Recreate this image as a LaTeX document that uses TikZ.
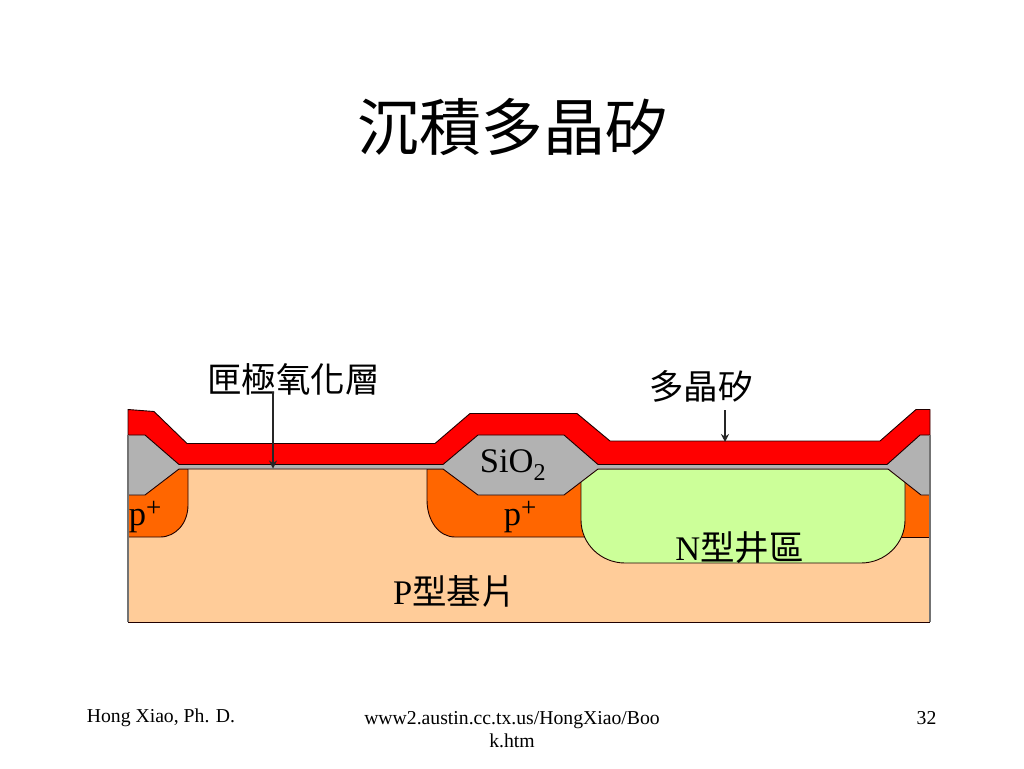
\documentclass[tikz,border=0pt]{standalone}
\usepackage{fontspec}
\setmainfont{Liberation Serif}
\newfontfamily\cjk{Noto Sans CJK TC}
\usetikzlibrary{arrows.meta}
\definecolor{subst}{HTML}{FFCC99}
\definecolor{pplus}{HTML}{FF6600}
\definecolor{nwell}{HTML}{CCFF99}
\definecolor{oxide}{HTML}{B2B2B2}
\definecolor{poly}{HTML}{FF0000}
\definecolor{edge}{HTML}{200000}
\newcommand{\pplustext}{p\raisebox{9pt}{\fontsize{27}{27}\selectfont +}}
\tikzset{
  layer/.style={draw=edge,line width=0.9pt,line join=round},
  oxfill/.style={fill=oxide,draw=none},
  sideline/.style={draw=black!55,line width=1.2pt},
  lbl/.style={inner sep=0pt,text=black,font=\fontsize{34.5}{36}\selectfont},
  cjklbl/.style={lbl,font=\fontsize{34.5}{36}\selectfont\cjk},
  foot/.style={inner sep=0pt,text=black,font=\fontsize{19.7}{23}\selectfont,align=center},
  pointer/.style={draw=black!85,line width=1.2pt,-{Stealth[length=8pt,width=8pt]}}
}
\begin{document}
\begin{tikzpicture}[x=1pt,y=-1pt]
\useasboundingbox (0,0) rectangle (1024,768);
% substrate
\path[fill=subst] (128,469) rectangle (930,622);
\draw[layer] (128,622) -- (930,622);
% p+ regions
\path[layer,fill=pplus] (128,469) -- (188,469) -- (188,505)
  .. controls (188,523) and (176,537) .. (160,537) -- (128,537) -- cycle;
\path[layer,fill=pplus] (427,469) -- (600,469) -- (600,537) -- (455,537)
  .. controls (439,537) and (427,521) .. (427,500) -- cycle;
\path[layer,fill=pplus] (880,469) -- (930,469) -- (930,537) -- (880,537) -- cycle;
% n well
\path[layer,fill=nwell] (581,469) -- (905,469) -- (905,520)
  .. controls (905,544) and (885,563) .. (861,563) -- (625,563)
  .. controls (601,563) and (581,544) .. (581,520) -- cycle;
% oxide fills
\path[oxfill] (128,435) -- (145,435) -- (179,464) -- (443,464) -- (478,435) -- (564,435) -- (598,464)
  -- (887,464) -- (920,435) -- (930,435) -- (930,495) -- (921,495) -- (888,469) -- (598,469)
  -- (564,495) -- (478,495) -- (443,469) -- (179,469) -- (145,495) -- (128,495) -- cycle;
% oxide lower edges
\draw[layer] (128,495) -- (145,495) -- (179,469) -- (443,469) -- (478,495) -- (564,495) -- (598,469)
  -- (888,469) -- (921,495) -- (930,495);
% polysilicon
\path[layer,fill=poly] (128,409.5) -- (154,411.5) -- (187,443.5) -- (435,443.5) -- (470,413.5)
  -- (577,413.5) -- (610,441) -- (880,441) -- (916,409.5) -- (930,409.5) -- (930,435)
  -- (920,435) -- (887,464.5) -- (598,464.5) -- (564,435) -- (478,435) -- (443,464.5)
  -- (179,464.5) -- (145,435) -- (128,435) -- cycle;
% outer sides
\draw[sideline] (128,435) -- (128,622);
\draw[sideline] (930,435) -- (930,622);
% texts
\node[inner sep=0pt,font=\fontsize{62}{62}\selectfont\cjk] (title) at (512,127) {沉積多晶矽};
\node[cjklbl] (gatelabel) at (293.5,379) {匣極氧化層};
\node[cjklbl] (polylabel) at (701,386) {多晶矽};
\node[lbl] (siotwo) at (513,465) {SiO\textsubscript{2}};
\node[lbl] (pleft) at (145,517) {\pplustext};
\node[lbl] (pmid) at (520,517) {\pplustext};
\node[lbl] (nlabel) at (739.5,548) {N{\cjk 型井區}};
\node[lbl] (plabel) at (454.5,591) {P{\cjk 型基片}};
\node[foot] (footleft) at (161,718) {Hong Xiao, Ph. D.};
\node[foot,anchor=north] (footmid) at (512,711) {www2.austin.cc.tx.us/HongXiao/Boo\\k.htm};
\node[foot] (footright) at (926.5,718) {32};
% pointers
\coordinate (gatetip) at (273,468.5);
\coordinate (polytip) at (725,442);
\coordinate (gatestart) at (273,392);
\coordinate (polystart) at (725,410);
\draw[pointer] (gatestart) -- (gatetip);
\draw[pointer] (polystart) -- (polytip);
\end{tikzpicture}
\end{document}
